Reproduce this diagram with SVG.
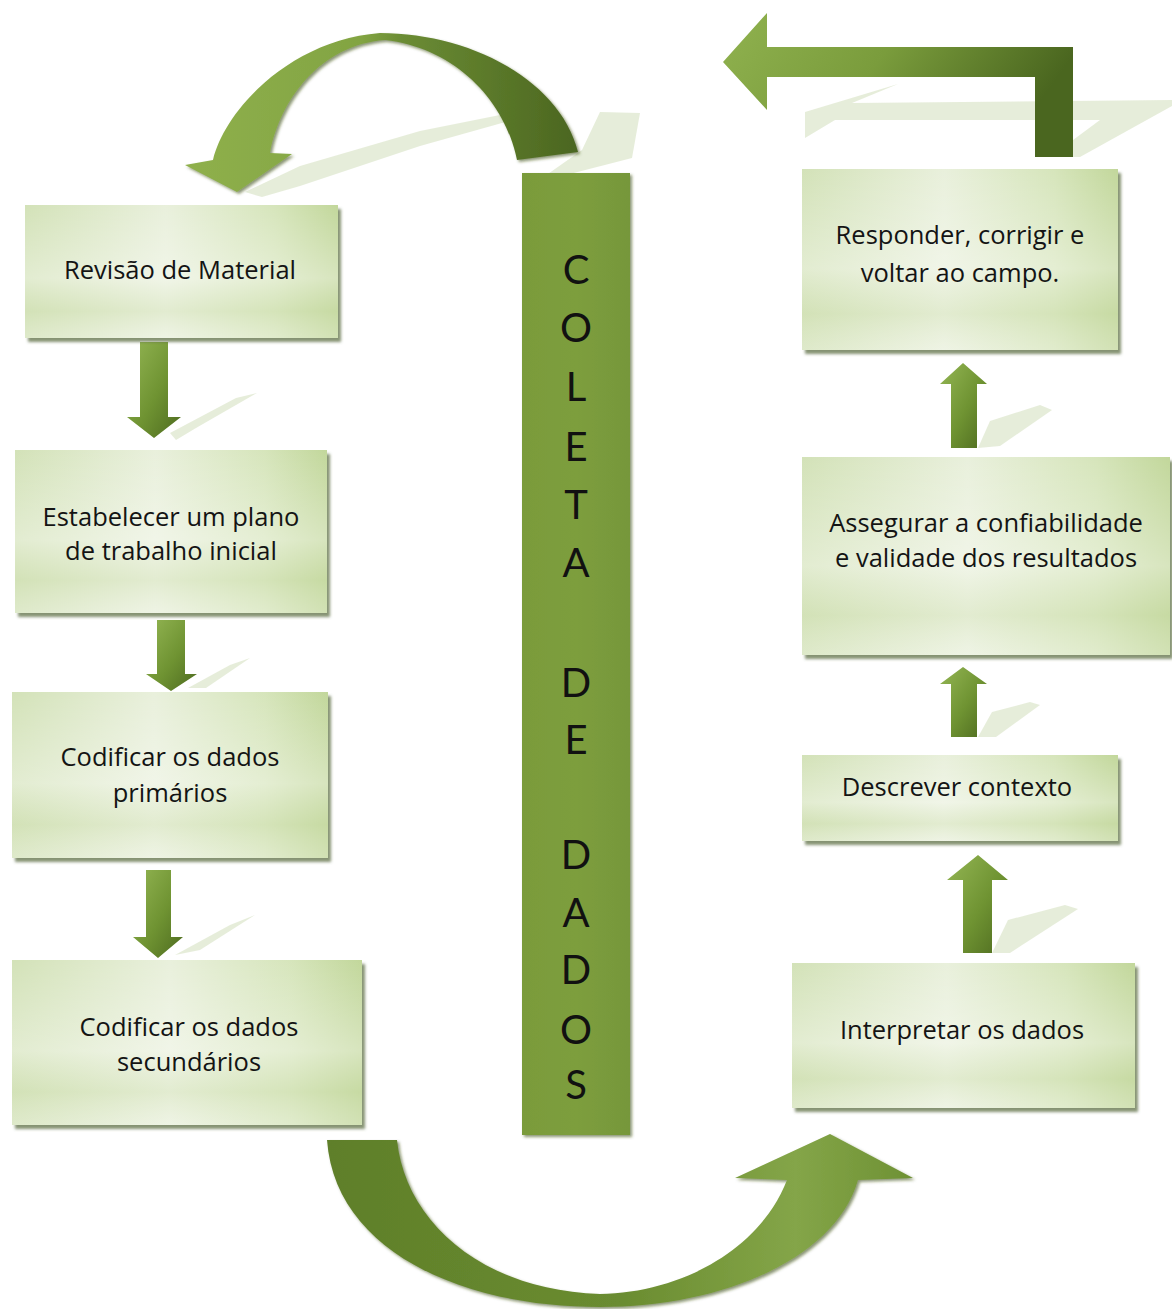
<svg xmlns="http://www.w3.org/2000/svg" width="1172" height="1309" viewBox="0 0 1172 1309">
<defs>
<linearGradient id="boxH" x1="0" y1="0" x2="1" y2="0">
<stop offset="0" stop-color="#d3e2b8"/><stop offset="0.45" stop-color="#e9f0dc"/><stop offset="0.8" stop-color="#d6e5bb"/><stop offset="1" stop-color="#c2d79b"/>
</linearGradient>
<linearGradient id="boxV" x1="0" y1="0" x2="0" y2="1">
<stop offset="0" stop-color="#ffffff" stop-opacity="0"/><stop offset="0.55" stop-color="#ffffff" stop-opacity="0.35"/><stop offset="0.8" stop-color="#d2e1b5" stop-opacity="0.3"/><stop offset="1" stop-color="#ffffff" stop-opacity="0.25"/>
</linearGradient>
<linearGradient id="arrG" x1="0" y1="0" x2="1" y2="1">
<stop offset="0" stop-color="#94b654"/><stop offset="0.55" stop-color="#6f9332"/><stop offset="1" stop-color="#4d6a1f"/>
</linearGradient>
<linearGradient id="topArc" x1="0" y1="0" x2="1" y2="0">
<stop offset="0" stop-color="#8fb04c"/><stop offset="0.45" stop-color="#82a442"/><stop offset="0.55" stop-color="#6b8c34"/><stop offset="1" stop-color="#4b6620"/>
</linearGradient>
<linearGradient id="lArr" x1="0" y1="0" x2="1" y2="0.3">
<stop offset="0" stop-color="#90b24f"/><stop offset="0.5" stop-color="#7a9c3c"/><stop offset="1" stop-color="#4a661f"/>
</linearGradient>
<linearGradient id="botArc" x1="0" y1="0" x2="1" y2="0">
<stop offset="0" stop-color="#5f7f2a"/><stop offset="0.5" stop-color="#6a8c30"/><stop offset="0.8" stop-color="#84a548"/><stop offset="1" stop-color="#6e9134"/>
</linearGradient>
<linearGradient id="barG" x1="0" y1="0" x2="1" y2="0">
<stop offset="0" stop-color="#7a9b3a"/><stop offset="0.5" stop-color="#7d9e3e"/><stop offset="1" stop-color="#76973a"/>
</linearGradient>
<filter id="sh" x="-10%" y="-10%" width="125%" height="125%">
<feDropShadow dx="3" dy="4" stdDeviation="1.5" flood-color="#5d6e45" flood-opacity="0.75"/>
</filter>
<filter id="sh2" x="-10%" y="-10%" width="125%" height="125%">
<feDropShadow dx="2" dy="2" stdDeviation="1.5" flood-color="#3c4f18" flood-opacity="0.6"/>
</filter>
<style>
.box{fill:url(#boxH);filter:url(#sh);}
.boxov{fill:url(#boxV);}
.t{font-family:"Open Sans",Lato,"Liberation Sans",sans-serif;font-size:25.5px;fill:#141414;text-anchor:middle;}
.bt{font-family:Lato,"Open Sans","Liberation Sans",sans-serif;font-size:40px;fill:#111;text-anchor:middle;}
.arr{fill:url(#arrG);}
.refl{fill:#e2ead3;opacity:0.85;}
</style>
</defs>
<rect width="1172" height="1309" fill="#ffffff"/>

<g id="reflections">
<polygon class="refl" points="245,192 300,166 420,131 500,115 520,118 420,146 345,171 300,186 262,197"/>
<polygon class="refl" points="545,176 582,150 600,112 640,113 632,158 562,176"/>
<polygon class="refl" points="805,112 898,84 852,103 1172,100 1172,106 1080,157 1073,157 1073,140 1100,120 835,120 805,138"/>
<polygon class="refl" points="170,433 236,398 257,393 196,428 176,440"/>
<polygon class="refl" points="188,688 230,665 250,658 206,688"/>
<polygon class="refl" points="175,955 230,925 255,915 200,950"/>
<polygon class="refl" points="978,448 990,421 1040,405 1052,410 1000,446"/>
<polygon class="refl" points="978,737 992,712 1030,702 1040,705 996,737"/>
<polygon class="refl" points="992,953 1008,920 1065,905 1078,909 1010,953"/>
</g>

<g id="connectors">
<path id="arc-top" fill="url(#topArc)" filter="url(#sh2)" d="M 578,152 L 517,160 C 505,100 455,48 385,40 C 320,45 280,100 270,153 L 292,154 L 237,192 L 185,165 L 213,160 C 225,110 290,40 380,33 C 470,33 560,80 578,152 Z"/>
<path id="arrow-return" fill="url(#lArr)" d="M 723,62 L 767,13 L 767,47 L 1073,47 L 1073,157 L 1035,157 L 1035,77 L 767,77 L 767,110 Z"/>
<path id="arc-bottom" fill="url(#botArc)" filter="url(#sh2)" d="M 327,1140 L 397,1140 C 405,1220 480,1290 600,1294 C 680,1293 760,1250 787,1180 L 735,1178 L 830,1134 L 913,1178 L 858,1180 C 835,1260 720,1307 600,1307 C 460,1307 335,1250 327,1140 Z"/>
<polygon class="arr" points="140,342 168,342 168,417 181,417 154,438 127,417 140,417"/>
<polygon class="arr" points="157,620 185,620 185,674 197,674 171,691 146,674 157,674"/>
<polygon class="arr" points="146,870 171,870 171,937 183,937 158,958 133,937 146,937"/>
<polygon class="arr" points="963,363 987,384 977,384 977,448 951,448 951,384 940,384"/>
<polygon class="arr" points="963,667 987,684 977,684 977,737 951,737 951,684 940,684"/>
<polygon class="arr" points="978,855 1008,880 992,880 992,953 963,953 963,880 947,880"/>
</g>

<g id="node-coleta">
<rect x="522" y="173" width="108" height="962" fill="url(#barG)" filter="url(#sh2)"/>
<text class="bt" x="576" y="284">C</text>
<text class="bt" x="576" y="342">O</text>
<text class="bt" x="576" y="401">L</text>
<text class="bt" x="576" y="461">E</text>
<text class="bt" x="576" y="519">T</text>
<text class="bt" x="576" y="577">A</text>
<text class="bt" x="576" y="697">D</text>
<text class="bt" x="576" y="754">E</text>
<text class="bt" x="576" y="869">D</text>
<text class="bt" x="576" y="927">A</text>
<text class="bt" x="576" y="984">D</text>
<text class="bt" x="576" y="1044">O</text>
<text class="bt" x="576" y="1099">S</text>
</g>

<g id="node-revisao">
<rect class="box" x="25" y="205" width="313" height="133"/>
<rect class="boxov" x="25" y="205" width="313" height="133"/>
<text class="t" x="180" y="279">Revisão de Material</text>
</g>
<g id="node-estabelecer">
<rect class="box" x="15" y="450" width="312" height="163"/>
<rect class="boxov" x="15" y="450" width="312" height="163"/>
<text class="t" x="171" y="526">Estabelecer um plano</text>
<text class="t" x="171" y="560">de trabalho inicial</text>
</g>
<g id="node-primarios">
<rect class="box" x="12" y="692" width="316" height="166"/>
<rect class="boxov" x="12" y="692" width="316" height="166"/>
<text class="t" x="170" y="766">Codificar os dados</text>
<text class="t" x="170" y="802">primários</text>
</g>
<g id="node-secundarios">
<rect class="box" x="12" y="960" width="350" height="165"/>
<rect class="boxov" x="12" y="960" width="350" height="165"/>
<text class="t" x="189" y="1036">Codificar os dados</text>
<text class="t" x="189" y="1071">secundários</text>
</g>
<g id="node-responder">
<rect class="box" x="802" y="169" width="316" height="181"/>
<rect class="boxov" x="802" y="169" width="316" height="181"/>
<text class="t" x="960" y="244">Responder, corrigir e</text>
<text class="t" x="960" y="282">voltar ao campo.</text>
</g>
<g id="node-assegurar">
<rect class="box" x="802" y="457" width="368" height="198"/>
<rect class="boxov" x="802" y="457" width="368" height="198"/>
<text class="t" x="986" y="532">Assegurar a confiabilidade</text>
<text class="t" x="986" y="567">e validade dos resultados</text>
</g>
<g id="node-descrever">
<rect class="box" x="802" y="755" width="316" height="86"/>
<rect class="boxov" x="802" y="755" width="316" height="86"/>
<text class="t" x="957" y="796">Descrever contexto</text>
</g>
<g id="node-interpretar">
<rect class="box" x="792" y="963" width="343" height="145"/>
<rect class="boxov" x="792" y="963" width="343" height="145"/>
<text class="t" x="962" y="1039">Interpretar os dados</text>
</g>
</svg>
